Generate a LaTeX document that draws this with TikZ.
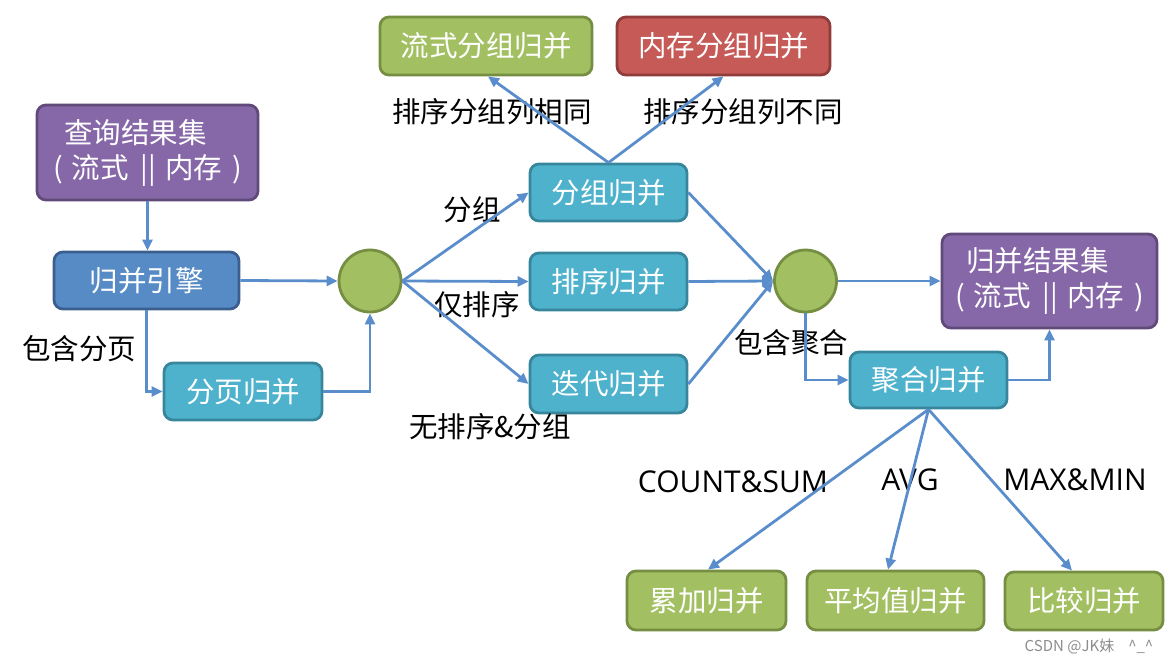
\documentclass[tikz,border=0pt]{standalone}
\usepackage{fontspec}
\setmainfont{Noto Sans CJK SC}
\newfontfamily\latinfont{Open Sans}
\usetikzlibrary{arrows.meta,calc}
\definecolor{purpleF}{HTML}{8668A8}
\definecolor{purpleD}{HTML}{5F4A7A}
\definecolor{blueF}{HTML}{578BC6}
\definecolor{blueD}{HTML}{3A5F8F}
\definecolor{tealF}{HTML}{4FB2CC}
\definecolor{tealD}{HTML}{37869C}
\definecolor{greenF}{HTML}{A2C062}
\definecolor{greenD}{HTML}{758E42}
\definecolor{redF}{HTML}{C55A57}
\definecolor{redD}{HTML}{8F3C3A}
\definecolor{lineC}{HTML}{5A8DCB}
\newcommand{\flowmem}{(\hspace{9pt}流式\hspace{12pt}||\hspace{9pt}内存\hspace{10pt})}
\tikzset{
  box/.style={rounded corners=9pt, line width=2.8pt, text=white, inner sep=0pt,
    font=\fontsize{28.5}{35}\selectfont, align=center},
  purplebox/.style={box, fill=purpleF, draw=purpleD},
  bluebox/.style={box, fill=blueF, draw=blueD},
  tealbox/.style={box, fill=tealF, draw=tealD},
  greenbox/.style={box, fill=greenF, draw=greenD},
  redbox/.style={box, fill=redF, draw=redD},
  dot/.style={circle, fill=greenF, draw=greenD, line width=2.8pt, minimum size=62pt, inner sep=0pt},
  lbl/.style={text=black, inner sep=0pt, font=\fontsize{28.5}{34}\selectfont},
  latlbl/.style={text=black, inner sep=0pt, font=\latinfont\fontsize{30}{34}\selectfont},
  conn/.style={draw=lineC, line width=2.8pt, -{Triangle[length=11pt,width=10pt]}},
}
\begin{document}
\begin{tikzpicture}[x=1pt,y=-1pt]
\useasboundingbox (0,0) rectangle (1175,664);
% boxes
\node[purplebox, minimum width=221pt, minimum height=95pt] (qry) at (147.5,152.5) {查询结果集\hspace*{24pt}\\\flowmem};
\node[bluebox, minimum width=185pt, minimum height=57pt] (engine) at (146.5,280.5) {归并引擎};
\node[tealbox, minimum width=158pt, minimum height=57pt] (page) at (243,391.5) {分页归并};
\node[greenbox, minimum width=212pt, minimum height=58pt] (stream) at (486,46) {流式分组归并};
\node[redbox, minimum width=213pt, minimum height=58pt] (mem) at (723.5,46) {内存分组归并};
\node[tealbox, minimum width=157pt, minimum height=57pt] (group) at (608.5,192.5) {分组归并};
\node[tealbox, minimum width=157pt, minimum height=57pt] (sort) at (608.5,281.5) {排序归并};
\node[tealbox, minimum width=157pt, minimum height=58pt] (iter) at (608.5,384) {迭代归并};
\node[purplebox, minimum width=215pt, minimum height=94pt] (result) at (1049.5,281) {归并结果集\hspace*{24pt}\\\flowmem};
\node[tealbox, minimum width=157pt, minimum height=56pt] (agg) at (928.5,380) {聚合归并};
\node[greenbox, minimum width=159pt, minimum height=59pt] (sum) at (706.5,600.5) {累加归并};
\node[greenbox, minimum width=177pt, minimum height=59pt] (avg) at (895.5,600.5) {平均值归并};
\node[greenbox, minimum width=158pt, minimum height=58pt] (cmp) at (1084,601) {比较归并};
% circles
\node[dot] (c1) at (370,281) {};
\node[dot] (c2) at (805.5,281) {};
% labels
\node[lbl] (lpage) at (79,349) {包含分页};
\node[lbl] (lsame) at (492,112) {排序分组列相同};
\node[lbl] (ldiff) at (743,112) {排序分组列不同};
\node[lbl] (lgroup) at (472,210) {分组};
\node[lbl] (lsort) at (477,305) {仅排序};
\node[lbl] (lnone) at (490,427) {无排序\&分组};
\node[lbl] (lagg) at (791,343) {包含聚合};
\node[latlbl] (lcs) at (733,482) {COUNT\&SUM};
\node[latlbl] (lavg) at (910,480) {AVG};
\node[latlbl] (lmm) at (1075,480) {MAX\&MIN};
\node[text=black!45, inner sep=0pt, font=\fontsize{15}{18}\selectfont] (wm) at (1089,647) {CSDN @JK妹\hspace{14pt}\^{}\_\^{}};
% connectors
\draw[conn] (qry.south) -- (qry.south |- engine.north);
\draw[conn] (engine.east) -- (c1.west);
\draw[conn] (engine.south) |- (page.west);
\draw[conn] (page.east) -| (c1.south);
\draw[conn] (c1.east) -- (group.west);
\draw[conn] (c1.east) -- (sort.west);
\draw[conn] (c1.east) -- (iter.west);
\draw[conn] (group.north) -- ([xshift=2pt]stream.south);
\draw[conn] (group.north) -- (mem.south);
\draw[conn] (group.east) -- (c2.west);
\draw[conn] (sort.east) -- (c2.west);
\draw[conn] (iter.east) -- (c2.west);
\draw[conn] (c2.east) -- (result.west);
\draw[conn] (c2.south) |- (agg.west);
\draw[conn] (agg.east) -| (result.south);
\draw[conn] (agg.south) -- ([xshift=1.5pt]sum.north);
\draw[conn] (agg.south) -- ([xshift=-7.5pt]avg.north);
\draw[conn] (agg.south) -- ([xshift=-12pt]cmp.north);
\end{tikzpicture}
\end{document}
